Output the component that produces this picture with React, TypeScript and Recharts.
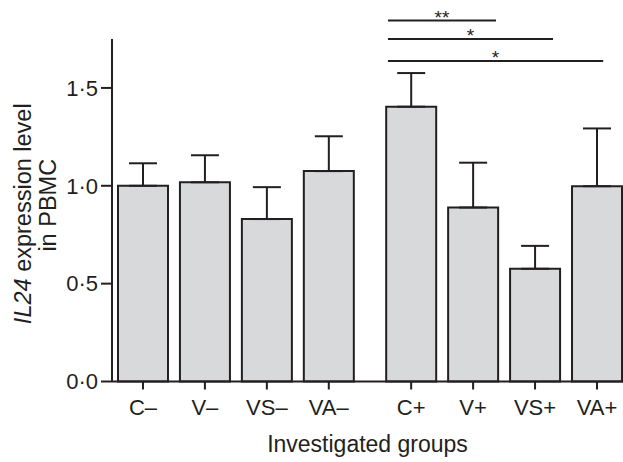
import { BarChart, Bar, XAxis, YAxis, ErrorBar, ReferenceLine } from 'recharts';

// group labels and values
const groups = ['C–', 'V–', 'VS–', 'VA–', 'C+', 'V+', 'VS+', 'VA+'];
const means = [1.0, 1.018, 0.83, 1.075, 1.404, 0.889, 0.576, 0.998];
const sems = [0.115, 0.138, 0.163, 0.178, 0.172, 0.229, 0.117, 0.295];
const yTicks = [0, 0.5, 1, 1.5];

// significance brackets above the "+" groups
const bracketFrom = ['C+', 'C+', 'C+'];
const bracketTo = ['V+', 'VS+', 'VA+'];
const bracketLevel = [1.844, 1.75, 1.638];
const bracketMarks = ['**', '*', '*'];

const INK = '#231f20';
const FONT = '"Liberation Sans", Arial, Helvetica, sans-serif';
const GROUP_GAP = 0.33;
const bracketReach = [0.37, 0.29, 0.1];

const posOf = (i: number) => i + (i >= 4 ? GROUP_GAP : 0);

const data = groups.map((g, i) => ({
  group: g,
  pos: posOf(i),
  mean: means[i],
  err: [0, sems[i]],
}));

const tickPositions = groups.map((_, i) => posOf(i));

const YLabel = (props: any) => {
  const vb = props.viewBox || {};
  const cy = vb.height ? vb.y + vb.height / 2 : 210;
  return (
    <g transform={`translate(0, ${cy}) rotate(-90)`} fill={INK} fontFamily={FONT}>
      <text x={-3.5} y={31} textAnchor="middle" fontSize={23.5}>
        <tspan fontStyle="italic">IL24</tspan> expression level
      </text>
      <text x={5} y={56} textAnchor="middle" fontSize={23.5}>
        in PBMC
      </text>
    </g>
  );
};

const starLabel = (mark: string) => (props: any) => {
  const vb = props.viewBox || {};
  const cx = (vb.x ?? 0) + (vb.width ?? 0) / 2;
  return (
    <text x={cx} y={(vb.y ?? 0) + 3} textAnchor="middle" fontSize={19} fill={INK} fontFamily={FONT}>
      {mark}
    </text>
  );
};

export default function App() {
  return (
    <div style={{ position: 'absolute', left: 0, top: 0, fontFamily: FONT }}>
      <BarChart
        width={623}
        height={462}
        data={data}
        margin={{ top: 39, right: 0, bottom: 0, left: 0 }}
      >
        <XAxis
          dataKey="pos"
          type="number"
          domain={[-0.5, 7.75]}
          ticks={tickPositions}
          interval={0}
          tickFormatter={(v: number) => groups[tickPositions.findIndex((p) => Math.abs(p - v) < 1e-6)] ?? ''}
          height={80.5}
          axisLine={{ stroke: INK, strokeWidth: 2 }}
          tickLine={{ stroke: INK, strokeWidth: 2 }}
          tickSize={8}
          tickMargin={10}
          tick={{ fill: INK, fontSize: 22 }}
          label={{ value: 'Investigated groups', position: 'insideBottom', offset: 10, fill: INK, fontSize: 23 }}
        />
        <YAxis
          domain={[0, 1.75]}
          ticks={yTicks}
          width={112}
          tickFormatter={(v: number) => v.toFixed(1).replace('.', '·')}
          axisLine={{ stroke: INK, strokeWidth: 2 }}
          tickLine={{ stroke: INK, strokeWidth: 2 }}
          tickSize={11}
          tickMargin={3}
          tick={{ fill: INK, fontSize: 22 }}
          label={YLabel}
        />
        <Bar dataKey="mean" fill="#d8d9db" stroke={INK} strokeWidth={2} barSize={50} isAnimationActive={false}>
          <ErrorBar dataKey="err" direction="y" width={14} stroke={INK} strokeWidth={2} />
        </Bar>
        {bracketFrom.map((from, k) => {
          const x1 = posOf(groups.indexOf(from)) - 0.375;
          const x2 = posOf(groups.indexOf(bracketTo[k])) + bracketReach[k];
          return (
            <ReferenceLine
              key={k}
              segment={[
                { x: x1, y: bracketLevel[k] },
                { x: x2, y: bracketLevel[k] },
              ]}
              stroke={INK}
              strokeWidth={2}
              ifOverflow="visible"
              label={starLabel(bracketMarks[k])}
            />
          );
        })}
      </BarChart>
    </div>
  );
}
